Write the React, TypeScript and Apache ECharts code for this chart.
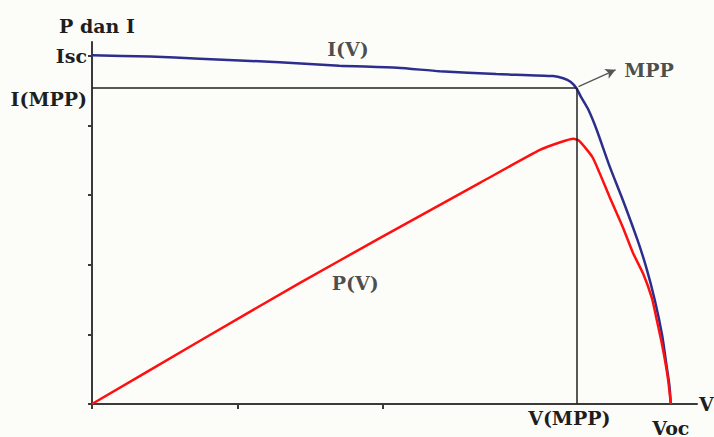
import React, { useEffect, useRef } from "react";
import * as echarts from "echarts";

// I(V) curve points [V, I] in axis units
const ivCurve: number[][] = [
  [0, 5.01], [0.4, 4.99], [0.74, 4.96], [1.29, 4.91], [1.7, 4.86], [2.1, 4.83],
  [2.39, 4.78], [2.78, 4.74], [3.17, 4.71], [3.24, 4.68], [3.29, 4.63], [3.33, 4.54],
  [3.36, 4.42], [3.41, 4.24], [3.47, 3.94], [3.56, 3.41], [3.65, 2.93], [3.75, 2.36],
  [3.81, 1.97], [3.87, 1.49], [3.92, 0.99], [3.95, 0.56], [3.97, 0.27], [3.98, 0],
];

// P(V) curve points [V, P] in axis units
const pvCurve: number[][] = [
  [0, 0], [0.74, 0.905], [1.43, 1.74], [1.96, 2.36], [2.67, 3.18], [3.08, 3.65],
  [3.22, 3.76], [3.31, 3.81], [3.35, 3.78], [3.44, 3.55], [3.49, 3.32], [3.56, 2.97],
  [3.65, 2.54], [3.72, 2.17], [3.79, 1.87], [3.85, 1.52], [3.88, 1.24], [3.92, 0.85],
  [3.96, 0.37], [3.98, 0],
];

const vMpp = 3.33;
const iMpp = 4.54;
const vOc = 3.98;
const iSc = 5.0;

const xTicks = [0, 1, 2];
const yTicks = [0, 1, 2, 3, 4, 5];
const xTickLabels = [vMpp, vOc];
const yTickLabels = [iSc, iMpp];

const curveLabels = [
  { name: "I(V)", pos: [1.76, 5.1] },
  { name: "P(V)", pos: [1.81, 1.74] },
];
const mppLabelPos = [3.66, 4.8];
const mppArrow = [[3.345, 4.56], [3.6, 4.8]];

const FONT = "DejaVu Serif";
const TXT = "#1e1e1e";

export default function App() {
  const ref = useRef<HTMLDivElement>(null);
  useEffect(() => {
    document.body.style.margin = "0";
    const chart = echarts.init(ref.current!, null, { renderer: "svg" });
    const textStyle = { fontFamily: FONT, fontWeight: "bold" as const, fontSize: 19, color: TXT };
    chart.setOption({
      animation: false,
      backgroundColor: "#fcfcf8",
      textStyle: { fontFamily: FONT },
      grid: { left: 92, right: 17, top: 42, bottom: 33, containLabel: false, outerBoundsMode: "none" },
      xAxis: {
        type: "value",
        min: 0,
        max: 4.16,
        name: "V",
        nameGap: 2,
        nameTextStyle: { ...textStyle, verticalAlign: "middle", align: "left" },
        axisLine: { show: true, lineStyle: { color: "#3a3a3a", width: 2 } },
        axisTick: { show: true, customValues: xTicks, length: 5, lineStyle: { color: "#3a3a3a", width: 2 } },
        axisLabel: {
          show: true,
          customValues: xTickLabels,
          margin: 4,
          formatter: (v: number) => (Math.abs(v - vMpp) < 0.01 ? "{a|V(MPP)}" : "{b|Voc}"),
          rich: {
            a: { ...textStyle, padding: [0, 14, 0, 0] },
            b: { ...textStyle, padding: [10, 0, 0, 0] },
          },
        },
        splitLine: { show: false },
      },
      yAxis: {
        type: "value",
        min: 0,
        max: 5.2,
        name: "P dan I",
        nameGap: 7,
        nameTextStyle: { ...textStyle, padding: [0, 0, 0, 10] },
        axisLine: { show: true, lineStyle: { color: "#3a3a3a", width: 2 } },
        axisTick: { show: true, customValues: yTicks, length: 4, lineStyle: { color: "#3a3a3a", width: 2 } },
        axisLabel: {
          show: true,
          customValues: yTickLabels,
          margin: 5,
          formatter: (v: number) => (Math.abs(v - iSc) < 0.01 ? "{a|Isc}" : "{b|I(MPP)}"),
          rich: {
            a: { ...textStyle },
            b: { ...textStyle, padding: [22, 0, 0, 0] },
          },
        },
        splitLine: { show: false },
      },
      series: [
        {
          name: "I(V)",
          type: "line",
          data: ivCurve,
          showSymbol: false,
          symbol: "none",
          smooth: 0.2,
          lineStyle: { color: "#2d2d8e", width: 2.5 },
          z: 3,
          markLine: {
            silent: true,
            symbol: ["none", "none"],
            label: { show: false },
            lineStyle: { color: "#222", width: 1.5, type: "solid" },
            data: [
              [{ coord: [0, iMpp] }, { coord: [vMpp, iMpp] }],
              [{ coord: [vMpp, iMpp] }, { coord: [vMpp, 0] }],
            ],
          },
        },
        {
          name: "P(V)",
          type: "line",
          data: pvCurve,
          showSymbol: false,
          symbol: "none",
          smooth: 0.2,
          lineStyle: { color: "#ff1010", width: 2.5 },
          z: 4,
          markLine: {
            silent: true,
            symbol: ["none", "arrow"],
            symbolSize: [8, 10],
            label: { show: false },
            lineStyle: { color: "#555", width: 1.3, type: "solid" },
            data: [[{ coord: mppArrow[0] }, { coord: mppArrow[1] }]],
          },
        },
        {
          name: "labels",
          type: "scatter",
          symbolSize: 0,
          silent: true,
          z: 5,
          data: [
            ...curveLabels.map((l) => ({
              value: l.pos,
              label: { show: true, position: "inside", formatter: l.name, ...textStyle },
            })),
            {
              value: mppLabelPos,
              label: { show: true, position: "right", distance: 0, formatter: "MPP", ...textStyle },
            },
          ],
        },
      ],
    });
    return () => chart.dispose();
  }, []);
  return <div ref={ref} style={{ width: 714, height: 437 }} />;
}
